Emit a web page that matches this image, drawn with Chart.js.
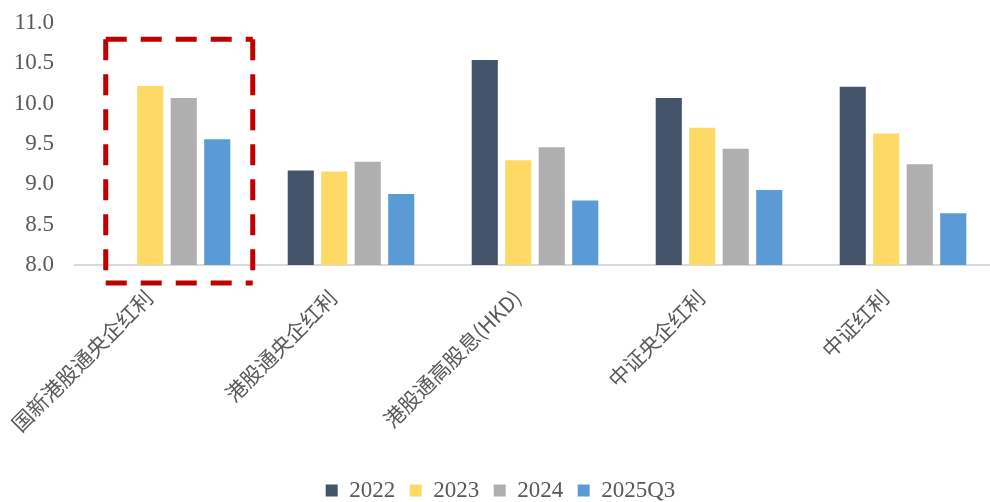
<!DOCTYPE html>
<html>
<head>
<meta charset="utf-8">
<script src="https://cdn.jsdelivr.net/npm/chart.js@4.4.1/dist/chart.umd.min.js"></script>
<style>
  html, body { margin: 0; padding: 0; background: #ffffff; overflow: hidden; }
  #wrap { position: relative; width: 995px; height: 512px; }
</style>
</head>
<body>
<div id="wrap"><canvas id="c"></canvas></div>
<script>
const categories = ['国新港股通央企红利', '港股通央企红利', '港股通高股息(HKD)', '中证央企红利', '中证红利'];
const seriesNames = ['2022', '2023', '2024', '2025Q3'];
const values2022 = [null, 9.17, 10.54, 10.07, 10.21];
const values2023 = [10.22, 9.16, 9.30, 9.70, 9.63];
const values2024 = [10.07, 9.28, 9.46, 9.44, 9.25];
const values2025Q3 = [9.56, 8.88, 8.80, 8.93, 8.64];
const yTicks = [8.0, 8.5, 9.0, 9.5, 10.0, 10.5, 11.0];
const highlightTop = 10.8;

const colors = ['#44546A', '#FFD966', '#AFAFAF', '#5B9BD5'];
const seriesData = [values2022, values2023, values2024, values2025Q3];

const highlightBox = {
  id: 'highlightBox',
  afterDraw(chart) {
    const { ctx, scales: { x, y }, chartArea } = chart;
    const cx = x.getPixelForValue(0);
    const cw = x.getPixelForValue(1) - cx;
    const left = cx - 0.333 * cw;
    const right = cx + 0.466 * cw;
    const top = y.getPixelForValue(highlightTop);
    const bottom = chartArea.bottom + 18;
    ctx.save();
    ctx.strokeStyle = '#C00000';
    ctx.lineWidth = 5;
    ctx.setLineDash([21, 14]);
    ctx.beginPath(); ctx.moveTo(left, top); ctx.lineTo(right, top); ctx.stroke();
    ctx.beginPath(); ctx.moveTo(left, top); ctx.lineTo(left, bottom); ctx.stroke();
    ctx.beginPath(); ctx.moveTo(right, top); ctx.lineTo(right, bottom); ctx.stroke();
    ctx.beginPath(); ctx.moveTo(left, bottom); ctx.lineTo(right, bottom); ctx.stroke();
    ctx.restore();
  }
};

new Chart(document.getElementById('c'), {
  type: 'bar',
  data: {
    labels: categories,
    datasets: seriesNames.map((name, i) => ({
      label: name,
      data: seriesData[i],
      backgroundColor: colors[i],
      borderWidth: 0,
      barPercentage: 0.78,
      categoryPercentage: 0.728
    }))
  },
  options: {
    responsive: true,
    maintainAspectRatio: false,
    animation: false,
    layout: { padding: { top: 23, left: 6, right: 0, bottom: 0 } },
    plugins: {
      legend: {
        position: 'bottom',
        labels: {
          color: '#595959',
          font: { family: '"Liberation Serif", "Times New Roman", serif', size: 23 },
          boxWidth: 12,
          boxHeight: 12,
          padding: 14.5
        }
      },
      tooltip: { enabled: false }
    },
    scales: {
      x: {
        grid: { display: false, drawTicks: false },
        border: { display: true, color: '#D9D9D9', width: 2 },
        ticks: {
          color: '#595959',
          font: { family: '"Noto Sans CJK SC", sans-serif', size: 21 },
          minRotation: 45,
          maxRotation: 45,
          autoSkip: false,
          padding: 20,
          labelOffset: -18
        },
        afterFit(scale) { scale.height = 199.5; }
      },
      y: {
        min: 8,
        max: 11,
        grid: { display: false, drawTicks: true, tickLength: 21 },
        border: { display: false },
        afterBuildTicks(scale) { scale.ticks = yTicks.map(v => ({ value: v })); },
        ticks: {
          color: '#595959',
          font: { family: '"Liberation Serif", "Times New Roman", serif', size: 23 },
          padding: 0,
          callback: (v) => Number(v).toFixed(1)
        },
        afterFit(scale) { scale.width = 69; }
      }
    }
  },
  plugins: [highlightBox]
});
</script>
</body>
</html>
